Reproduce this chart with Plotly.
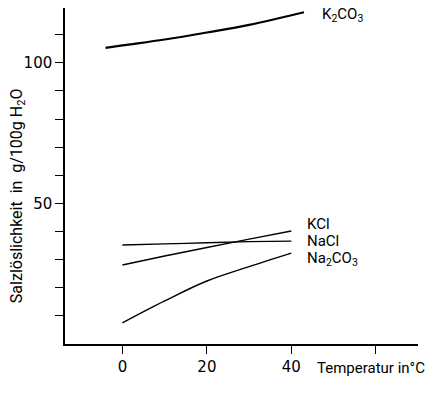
import plotly.graph_objects as go

# Temperatures (°C) and solubilities (g / 100 g H2O)
k2co3_t = [-4, 0, 10, 20, 30, 43]
k2co3_s = [105.3, 106.2, 108.3, 110.8, 113.5, 118.0]

kcl_t = [0, 10, 20, 30, 40]
kcl_s = [28.1, 31.3, 34.3, 37.3, 40.2]

nacl_t = [0, 10, 20, 30, 40]
nacl_s = [35.2, 35.6, 36.0, 36.4, 36.6]

na2co3_t = [0, 10, 20, 30, 40]
na2co3_s = [7.5, 15.3, 22.4, 27.5, 32.3]

x_tickvals = [0, 20, 40, 60]
x_ticktext = ["0", "20", "40", ""]
y_tickvals = [10, 20, 30, 40, 50, 60, 70, 80, 90, 100, 110]
y_ticktext = ["", "", "", "", "50", "", "", "", "", "100", ""]

series = [
    ("K<sub>2</sub>CO<sub>3</sub>", k2co3_t, k2co3_s, 2.2, 46.7, 117.0),
    ("KCl", kcl_t, kcl_s, 1.4, 43.2, 42.6),
    ("NaCl", nacl_t, nacl_s, 1.4, 43.2, 36.5),
    ("Na<sub>2</sub>CO<sub>3</sub>", na2co3_t, na2co3_s, 1.4, 43.2, 30.1),
]

FONT = "Roboto"
TICKFONT = "DejaVu Sans"
fig = go.Figure()
for name, t, s, w, lx, ly in series:
    fig.add_trace(go.Scatter(x=t, y=s, mode="lines", name=name,
                             line=dict(color="black", width=w, shape="spline"),
                             showlegend=False))
    fig.add_annotation(x=lx, y=ly, xref="x", yref="y", text=name, showarrow=False,
                       xanchor="left", yanchor="middle",
                       font=dict(family=FONT, size=15, color="black"))

fig.add_annotation(x=45.5, y=-0.0714, xref="x", yref="paper", text="Temperatur in°C",
                   showarrow=False, xanchor="left", yanchor="middle",
                   font=dict(family=FONT, size=15, color="black"))

fig.add_annotation(x=-0.136, y=0.443, xref="paper", yref="paper",
                   text="Salzlöslichkeit  in  g/100g H<sub>2</sub>O", textangle=-90,
                   showarrow=False, xanchor="center", yanchor="middle",
                   font=dict(family=FONT, size=16, color="black"))

fig.update_layout(
    width=435, height=391,
    margin=dict(l=57, r=25, t=0, b=55, autoexpand=False),
    paper_bgcolor="white", plot_bgcolor="white",
    font=dict(family=FONT, size=14, color="black"),
    xaxis=dict(range=[-13.6, 70], showgrid=False, zeroline=False, automargin=False,
               showline=True, linecolor="black", linewidth=1.5,
               ticks="outside", ticklen=8, tickwidth=1.2, tickcolor="black",
               tickvals=x_tickvals, ticktext=x_ticktext,
               tickfont=dict(family=TICKFONT, size=15, color="black")),
    yaxis=dict(range=[0, 119.5], showgrid=False, zeroline=False, automargin=False,
               showline=True, linecolor="black", linewidth=1.5,
               ticks="outside", ticklen=8, tickwidth=1.2, tickcolor="black",
               tickvals=y_tickvals, ticktext=y_ticktext,
               tickfont=dict(family=TICKFONT, size=15, color="black")),
)

fig.write_html("out.html")
